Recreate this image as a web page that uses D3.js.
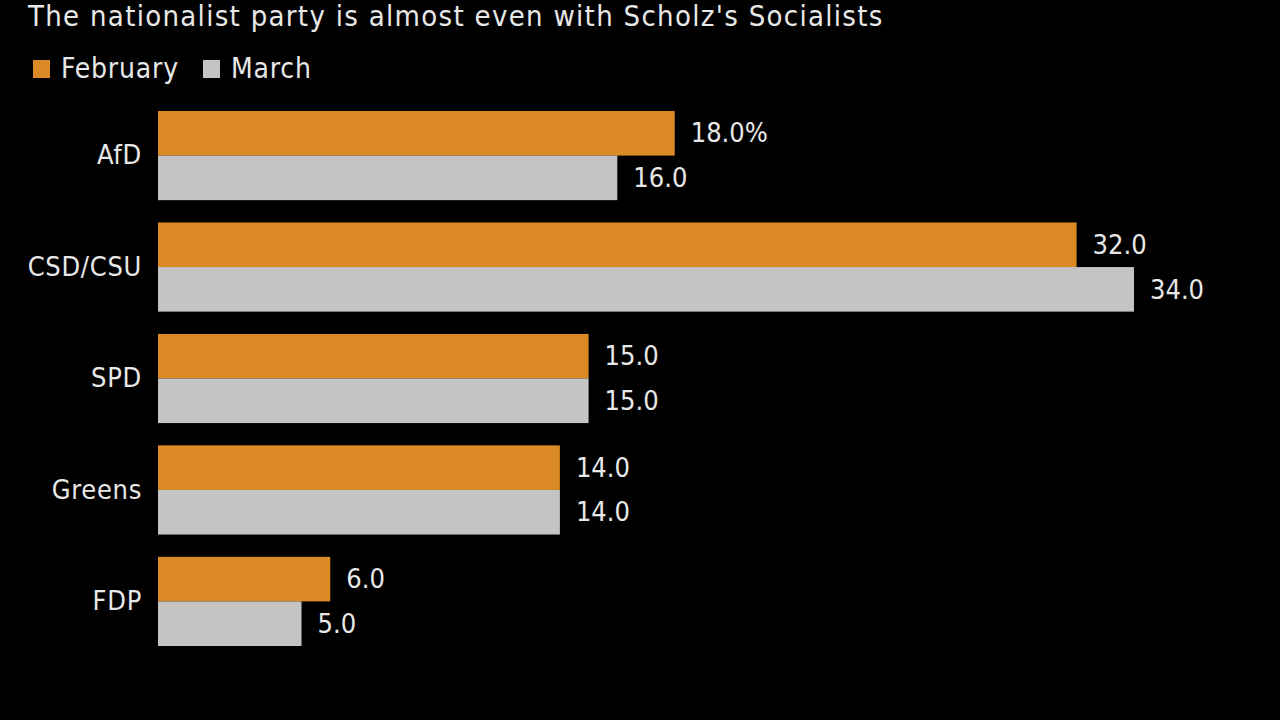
<!DOCTYPE html>
<html><head><meta charset="utf-8">
<script src="https://cdn.jsdelivr.net/npm/d3@7"></script>
<style>html,body{margin:0;padding:0;background:#000;}svg{display:block;}</style>
</head><body>
<svg id="chart" width="1280" height="720"></svg>
<script>
const categories = ["AfD", "CSD/CSU", "SPD", "Greens", "FDP"];
const seriesNames = ["February", "March"];
const february = [18, 32, 15, 14, 6];
const march = [16, 34, 15, 14, 5];
const title = "The nationalist party is almost even with Scholz's Socialists";

const colors = {February: "#DB8A26", March: "#C4C4C4"};
const font = "'DejaVu Sans Condensed', 'DejaVu Sans', sans-serif";
const textColor = "#E8E8E8";

const svg = d3.select("#chart");
svg.append("rect").attr("width",1280).attr("height",720).attr("fill","#000");

const x = d3.scaleLinear().domain([0, 34]).range([158, 1134]);
const y0 = d3.scaleBand().domain(categories).range([111, 646]).paddingInner(0.2).paddingOuter(0);
const y1 = d3.scaleBand().domain(seriesNames).range([0, y0.bandwidth()]);

svg.append("text").attr("x", 28).attr("y", 26).attr("fill", textColor)
  .style("font-family", font).style("font-size", "29px").style("letter-spacing", "1.3px").text(title);

// legend
const legendItems = [{name:"February", x:33}, {name:"March", x:203}];
legendItems.forEach(l => {
  svg.append("rect").attr("x", l.x).attr("y", 60).attr("width", 17).attr("height", 18).attr("fill", colors[l.name]);
  svg.append("text").attr("x", l.x + 28).attr("y", 78).attr("fill", textColor)
    .style("font-family", font).style("font-size", "28px").style("letter-spacing", "0.8px").text(l.name);
});

const data = categories.map((c, i) => ({cat: c, values: [
  {name: "February", v: february[i]}, {name: "March", v: march[i]}]}));

const g = svg.selectAll("g.grp").data(data).join("g").attr("class","grp")
  .attr("transform", d => `translate(0,${y0(d.cat)})`);

g.selectAll("rect").data(d => d.values).join("rect")
  .attr("x", x(0)).attr("y", d => y1(d.name))
  .attr("width", d => x(d.v) - x(0)).attr("height", y1.bandwidth())
  .attr("fill", d => colors[d.name]);

g.selectAll("text.val").data((d, i) => d.values.map((v, j) => ({...v, first: i === 0 && j === 0})))
  .join("text").attr("class","val")
  .attr("x", d => x(d.v) + 16).attr("y", d => y1(d.name) + y1.bandwidth()/2)
  .attr("dy", "0.34em").attr("fill", textColor)
  .style("font-family", font).style("font-size", "27px")
  .text(d => d3.format(".1f")(d.v) + (d.first ? "%" : ""));

// category axis labels
const yAxis = d3.axisLeft(y0).tickSize(0).tickPadding(16);
const ax = svg.append("g").attr("transform", `translate(${x(0)},0)`).call(yAxis);
ax.select(".domain").remove();
ax.selectAll("text").attr("fill", textColor).style("font-family", font).style("font-size", "27px").style("letter-spacing", "0.7px");
</script>
</body></html>
